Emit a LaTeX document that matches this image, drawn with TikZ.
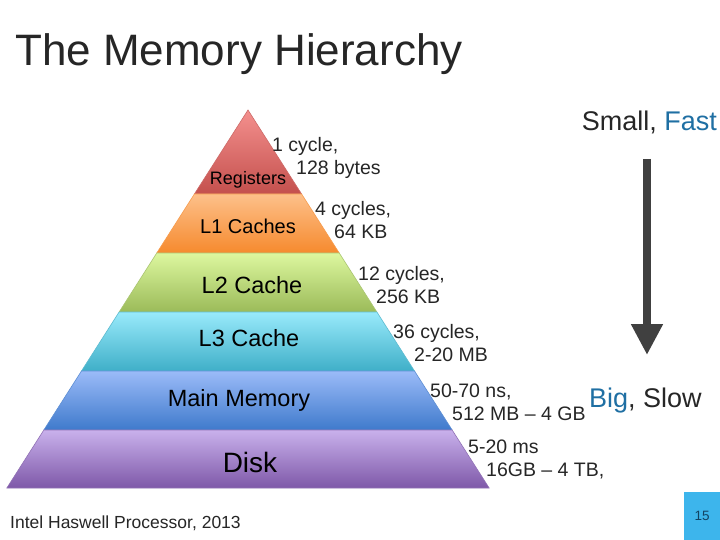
\documentclass[tikz,border=0pt]{standalone}
\usepackage{fontspec}
\setmainfont{Liberation Sans}
\usetikzlibrary{arrows.meta}

\definecolor{txt}{HTML}{262626}
\definecolor{hiblue}{HTML}{1F6FA3}
\definecolor{arrowgray}{HTML}{404040}
\definecolor{pagebox}{HTML}{3DB5EC}
\definecolor{regA}{HTML}{F4908E}
\definecolor{regB}{HTML}{C4504D}
\definecolor{lonA}{HTML}{FDC08A}
\definecolor{lonB}{HTML}{F68A2E}
\definecolor{ltwA}{HTML}{DDF79F}
\definecolor{ltwB}{HTML}{9BBB59}
\definecolor{lthA}{HTML}{99EAFB}
\definecolor{lthB}{HTML}{3FAFC8}
\definecolor{memA}{HTML}{9BBBF8}
\definecolor{memB}{HTML}{3F7ACC}
\definecolor{dskA}{HTML}{C9B1EC}
\definecolor{dskB}{HTML}{7E58A8}

\tikzset{
  layerlab/.style={inner sep=0pt, text=black},
  costlab/.style={anchor=base west, inner sep=0pt, text=txt,
    font=\fontsize{19.5}{22}\selectfont},
}

\begin{document}
\begin{tikzpicture}[x=1pt, y=-1pt]
    \useasboundingbox[fill=white] (0,0) rectangle (720,540);
    \node[anchor=base west, inner sep=0pt, text=txt,
      font=\fontsize{44}{48}\selectfont] (title) at (15,66) {The Memory Hierarchy};

    % pyramid, apex at (248,110)
    \foreach \ya/\yb/\ca/\cb in {110/194/regA/regB, 194/253/lonA/lonB,
        253/312/ltwA/ltwB, 312/371/lthA/lthB, 371/430/memA/memB, 430/488/dskA/dskB} {
        \pgfmathsetmacro\wa{0.638*(\ya-110)}
        \pgfmathsetmacro\wb{0.638*(\yb-110)}
        \shade[top color=\ca, bottom color=\cb, draw=\cb!85!white, line width=0.6pt]
          (248-\wa,\ya) -- (248+\wa,\ya) -- (248+\wb,\yb) -- (248-\wb,\yb) -- cycle;
    }
    \node[layerlab, font=\fontsize{18}{20}\selectfont] (reg) at (248,180) {Registers};
    \node[layerlab, font=\fontsize{20}{24}\selectfont] (lone) at (248,226) {L1 Caches};
    \node[layerlab, font=\fontsize{23.5}{28}\selectfont] (ltwo) at (252,285) {L2 Cache};
    \node[layerlab, font=\fontsize{23.5}{28}\selectfont] (lthree) at (249,338) {L3 Cache};
    \node[layerlab, font=\fontsize{23.5}{28}\selectfont] (mem) at (239,400) {Main Memory};
    \node[layerlab, font=\fontsize{28}{32}\selectfont] (disk) at (250,462) {Disk};

    % latency and size of each level
    \foreach \x/\xx/\y/\a/\b [count=\i] in {272/296/152/{1 cycle,}/{128 bytes},
        315/334/215/{4 cycles,}/{64 KB}, 358/376/280/{12 cycles,}/{256 KB},
        393/414/338/{36 cycles,}/{2-20 MB}, 430/452/397/{50-70 ns,}/{512 MB – 4 GB},
        468/486/453/{5-20 ms}/{16GB – 4 TB,}} {
        \node[costlab] (lat\i) at (\x,\y) {\a};
        \node[costlab] (size\i) at (\xx,\y+23) {\b};
    }

    % direction arrow
    \node[anchor=base east, inner sep=0pt, text=txt, font=\fontsize{27}{30}\selectfont]
      (small) at (717,131) {Small, \textcolor{hiblue}{Fast}};
    \node[anchor=base west, inner sep=0pt, text=txt, font=\fontsize{27}{30}\selectfont]
      (big) at (589,407) {\textcolor{hiblue}{Big}, Slow};
    \coordinate (atop) at (647,159);
    \coordinate (abot) at (647,355);
    \draw[arrowgray, line width=8pt, -{Triangle[width=30pt, length=31pt]}] (atop) -- (abot);

    \node[anchor=base west, inner sep=0pt, text=txt, font=\fontsize{17.5}{20}\selectfont]
      (src) at (10,528) {Intel Haswell Processor, 2013};

    % page number
    \fill[pagebox] (684,492) rectangle (720,540);
    \node[text=hiblue!60!black, font=\fontsize{13.5}{16}\selectfont] (page) at (702,516) {15};
\end{tikzpicture}
\end{document}
